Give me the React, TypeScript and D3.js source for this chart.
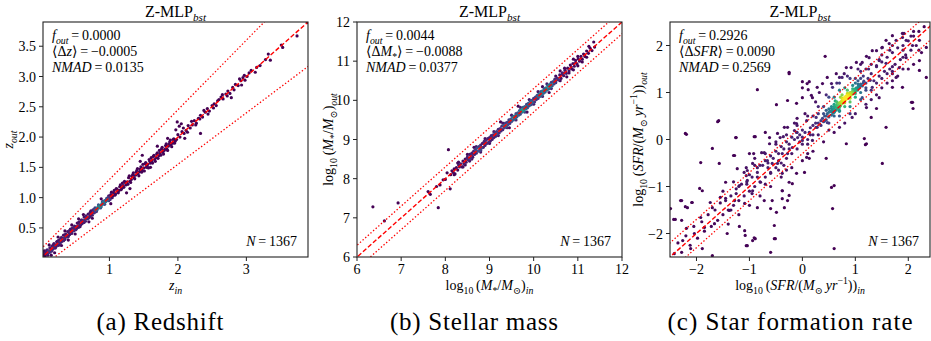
import React from 'react';
import * as d3 from 'd3';

const W = 931;
const H = 341;

// tick values
const zTicksX = [1, 2, 3];
const zTicksY = [0.5, 1.0, 1.5, 2.0, 2.5, 3.0, 3.5];
const massTicks = [6, 7, 8, 9, 10, 11, 12];
const sfrTicks = [-2, -1, 0, 1, 2];

// summary numbers printed in each panel
const zStats = ['0.0000', '\u22120.0005', '0.0135'];
const massStats = ['0.0044', '\u22120.0088', '0.0377'];
const sfrStats = ['0.2926', '0.0090', '0.2569'];
const nGal = 1367;

// redshift: [z_in, z_out]
const zPoints: [number, number][] = [
  [0.04,0.05],[0.05,0.12],[0.06,0.03],[0.07,0.09],[0.08,0.07],[0.09,0.14],[0.1,0.08],[0.11,0.12],[0.12,0.1],[0.13,0.17],
  [0.14,0.13],[0.15,0.12],[0.16,0.2],[0.17,0.15],[0.18,0.18],[0.19,0.24],[0.2,0.17],[0.21,0.22],[0.22,0.19],[0.23,0.27],
  [0.24,0.23],[0.25,0.21],[0.26,0.3],[0.27,0.26],[0.28,0.25],[0.29,0.33],[0.3,0.27],[0.31,0.31],[0.32,0.29],[0.33,0.38],
  [0.34,0.33],[0.35,0.31],[0.36,0.4],[0.37,0.35],[0.38,0.37],[0.39,0.44],[0.4,0.36],[0.41,0.42],[0.42,0.39],[0.43,0.48],
  [0.44,0.43],[0.45,0.41],[0.46,0.5],[0.47,0.46],[0.48,0.45],[0.49,0.53],[0.5,0.47],[0.51,0.52],[0.52,0.49],[0.53,0.58],
  [0.54,0.53],[0.55,0.51],[0.56,0.6],[0.57,0.56],[0.58,0.55],[0.59,0.63],[0.6,0.57],[0.61,0.62],[0.62,0.59],[0.63,0.68],
  [0.64,0.63],[0.65,0.61],[0.66,0.7],[0.67,0.66],[0.68,0.65],[0.69,0.73],[0.7,0.67],[0.71,0.72],[0.72,0.69],[0.73,0.78],
  [0.74,0.73],[0.75,0.71],[0.76,0.8],[0.77,0.76],[0.78,0.75],[0.79,0.83],[0.8,0.78],[0.81,0.81],[0.82,0.8],[0.83,0.84],
  [0.84,0.83],[0.85,0.84],[0.86,0.87],[0.87,0.86],[0.88,0.85],[0.89,0.9],[0.9,0.89],[0.91,0.92],[0.92,0.9],[0.93,0.95],
  [0.94,0.93],[0.95,0.94],[0.96,0.99],[0.97,0.96],[0.98,0.97],[0.99,1.03],[1.0,0.98],
  [0.8,0.8],[0.82,0.82],[0.84,0.85],[0.85,0.86],[0.87,0.87],[0.9,0.91],[0.92,0.93],[0.95,0.96],[0.98,1.0],[1.0,1.01],
  [0.12,0.22],[0.2,0.09],[0.35,0.45],[0.5,0.4],[0.62,0.72],[0.75,0.66],[0.88,0.98],[1.02,0.9],[0.45,0.55],[0.3,0.21],
  [0.05,0.09],[0.08,0.12],[0.1,0.05],[0.13,0.1],[0.16,0.12],[0.18,0.22],[0.21,0.17],[0.24,0.28],[0.27,0.22],[0.3,0.34],
  [0.33,0.29],[0.36,0.36],[0.39,0.35],[0.42,0.46],[0.45,0.44],[0.48,0.5],[0.51,0.47],[0.54,0.58],[0.57,0.52],[0.6,0.63],
  [0.63,0.59],[0.66,0.67],[0.69,0.66],[0.72,0.76],[0.75,0.75],[0.78,0.81],[0.81,0.77],[0.84,0.88],[0.87,0.83],[0.9,0.94],
  [0.93,0.89],[0.96,0.96],[0.99,0.95],[0.25,0.35],[0.55,0.65],[0.7,0.6],[0.4,0.3],[0.15,0.05],
  [1.02,1.05],[1.04,1.0],[1.06,1.08],[1.08,1.04],[1.1,1.15],[1.12,1.1],[1.14,1.12],[1.16,1.21],[1.18,1.15],[1.2,1.2],
  [1.22,1.27],[1.24,1.21],[1.25,1.08],[1.26,1.26],[1.28,1.33],[1.3,1.27],[1.32,1.3],[1.34,1.38],[1.36,1.33],[1.38,1.37],
  [1.4,1.45],[1.42,1.39],[1.44,1.43],[1.46,1.51],[1.48,1.7],[1.48,1.45],[1.5,1.49],[1.52,1.56],[1.54,1.5],[1.56,1.55],
  [1.58,1.63],[1.6,1.57],[1.62,1.61],[1.64,1.68],[1.66,1.63],[1.68,1.66],[1.7,1.85],[1.7,1.74],[1.72,1.69],[1.74,1.73],
  [1.76,1.8],[1.78,1.75],[1.8,1.78],[1.82,1.86],[1.84,1.8],[1.86,1.85],[1.88,1.92],[1.9,1.87],[1.92,1.9],[1.94,1.97],
  [1.96,1.93],[1.98,1.96],[2.0,2.04],
  [1.01,0.97],[1.03,1.09],[1.05,1.03],[1.07,1.12],[1.09,1.06],[1.11,1.14],[1.13,1.08],[1.15,1.18],[1.17,1.13],[1.19,1.24],
  [1.21,1.17],[1.23,1.25],[1.27,1.22],[1.29,1.36],[1.31,1.25],[1.33,1.35],[1.35,1.41],[1.37,1.31],[1.39,1.42],[1.41,1.48],
  [1.43,1.36],[1.45,1.47],[1.47,1.42],[1.49,1.55],[1.51,1.44],[1.53,1.58],[1.55,1.52],[1.57,1.49],[1.59,1.6],[1.61,1.66],
  [1.63,1.57],[1.65,1.7],[1.67,1.6],[1.69,1.72],[1.71,1.65],[1.73,1.78],[1.75,1.7],[1.77,1.83],[1.79,1.72],[1.81,1.8],
  [1.83,1.89],[1.85,1.78],[1.87,1.88],[1.89,1.95],[1.91,1.84],[1.93,1.96],[1.95,1.9],[1.45,1.6],[1.6,1.5],[1.3,1.15],[1.85,1.98],
  [1.97,2.12],[2.02,2.18],[2.05,2.22],[2.08,2.15],[1.99,2.25],[2.33,2.06],[2.1,1.98],
  [2.03,2.0],[2.06,2.09],[2.09,2.06],[2.12,2.11],[2.15,2.19],[2.18,2.15],[2.21,2.2],[2.24,2.27],[2.27,2.23],[2.3,2.31],
  [2.33,2.36],[2.36,2.33],[2.4,2.41],[2.43,2.47],[2.46,2.43],[2.5,2.52],[2.53,2.55],[2.56,2.52],[2.6,2.62],[2.63,2.66],
  [2.66,2.63],[2.7,2.71],[2.73,2.76],[2.76,2.72],[2.8,2.82],[2.84,2.87],[2.88,2.85],[2.92,2.93],[2.95,2.98],[2.98,2.94],
  [2.93,2.86],[2.78,2.65],
  [2.14,2.08],[2.2,2.26],[2.26,2.2],[2.32,2.3],[2.38,2.44],[2.44,2.38],[2.52,2.48],[2.58,2.6],[2.65,2.7],[2.72,2.68],
  [2.82,2.78],[2.9,2.96],[2.97,3.02],[3.07,3.1],[3.2,3.18],
  [3.01,3.0],[3.04,3.06],[3.13,3.07],[3.15,3.15],[3.28,3.28],[3.32,3.37],[3.35,3.27],[3.51,3.52],[3.53,3.48],[3.74,3.67],
  [3.89,3.89],
];

// stellar mass: [log M_in, log M_out]
const massPoints: [number, number][] = [
  [6.36,7.28],[6.62,6.92],[6.93,7.38],[7.61,7.67],[7.66,7.6],[7.8,7.8],[7.84,7.26],[8.07,8.74],[8.11,7.74],[8.04,8.15],
  [7.95,7.97],[7.88,7.84],[8.0,7.98],
  [8.12,8.1],[8.15,8.2],[8.18,8.16],[8.2,8.25],[8.22,8.12],[8.25,8.28],[8.28,8.22],[8.3,8.35],[8.32,8.3],[8.35,8.38],
  [8.38,8.3],[8.4,8.45],[8.42,8.38],[8.45,8.5],[8.47,8.42],[8.5,8.55],[8.52,8.48],[8.55,8.62],[8.57,8.52],[8.6,8.65],
  [8.62,8.55],[8.64,8.7],[8.66,8.62],[8.68,8.75],[8.7,8.65],[8.72,8.78],[8.74,8.7],[8.76,8.82],[8.78,8.72],[8.8,8.86],
  [8.82,8.78],[8.84,8.9],[8.86,8.8],[8.88,8.95],[8.9,8.85],[8.92,8.98],[8.94,8.9],[8.96,9.02],[8.98,8.93],[8.55,8.45],
  [8.65,8.8],[8.8,8.68],[8.28,8.4],[8.45,8.35],
  [9.0,9.05],[9.02,8.96],[9.04,9.1],[9.06,9.0],[9.08,9.12],[9.1,9.05],[9.12,9.18],[9.14,9.08],[9.16,9.2],[9.18,9.13],
  [9.2,9.26],[9.22,9.17],[9.24,9.28],[9.26,9.22],[9.28,9.34],[9.3,9.25],[9.32,9.36],[9.34,9.3],[9.36,9.42],[9.38,9.33],
  [9.4,9.44],[9.42,9.38],[9.44,9.5],[9.46,9.41],[9.48,9.52],[9.5,9.46],[9.52,9.58],[9.54,9.5],[9.56,9.6],[9.58,9.53],
  [9.6,9.66],[9.62,9.58],[9.64,9.68],[9.66,9.62],[9.68,9.74],[9.7,9.65],[9.72,9.76],[9.74,9.7],[9.76,9.82],[9.78,9.73],
  [9.8,9.84],[9.82,9.78],[9.84,9.9],[9.86,9.81],[9.88,9.92],[9.9,9.86],[9.92,9.98],[9.94,9.89],[9.96,10.0],[9.98,9.94],
  [9.5,9.5],[9.55,9.56],[9.6,9.61],[9.65,9.64],[9.7,9.71],[9.75,9.75],[9.8,9.8],[9.85,9.86],[9.9,9.9],[9.95,9.96],
  [9.25,9.45],[9.45,9.3],[9.65,9.85],[9.85,9.7],
  [10.0,10.05],[10.02,9.96],[10.04,10.08],[10.06,10.02],[10.08,10.13],[10.1,10.05],[10.12,10.16],[10.14,10.1],[10.16,10.22],
  [10.18,10.13],[10.2,10.24],[10.22,10.18],[10.24,10.3],[10.26,10.21],[10.28,10.32],[10.3,10.26],[10.32,10.38],[10.34,10.29],
  [10.36,10.4],[10.38,10.34],[10.4,10.46],[10.42,10.37],[10.44,10.48],[10.46,10.42],[10.48,10.54],[10.5,10.45],[10.53,10.57],
  [10.56,10.52],[10.59,10.65],[10.62,10.56],[10.65,10.7],[10.68,10.63],[10.71,10.77],[10.74,10.69],[10.77,10.82],[10.8,10.75],
  [10.83,10.9],[10.86,10.8],[10.89,10.94],[10.92,10.87],[10.95,11.02],[10.98,10.93],[11.01,11.06],[11.04,11.0],[11.07,11.12],
  [11.1,11.05],[11.13,11.18],[11.16,11.12],[11.2,11.26],[11.24,11.2],[11.28,11.33],[11.32,11.27],[11.36,11.49],[11.38,11.36],
  [10.05,10.06],[10.1,10.1],[10.15,10.15],[10.2,10.21],[10.25,10.25],[10.3,10.3],[10.35,10.36],[10.4,10.4],[10.45,10.46],
  [10.5,10.5],[10.2,10.35],[10.35,10.2],[10.6,10.75],[10.75,10.6],[10.9,11.05],[11.0,10.88],
  [8.2,8.1],[8.3,8.42],[8.4,8.3],[8.5,8.62],[8.6,8.5],[8.7,8.82],[8.8,8.72],[8.9,9.02],[9.0,8.9],[9.1,9.2],
  [9.2,9.1],[9.3,9.42],[9.4,9.3],[9.5,9.62],[9.6,9.5],[9.7,9.82],[9.8,9.7],[9.9,10.02],[10.0,9.9],[10.1,10.22],
  [10.2,10.1],[10.3,10.42],[10.4,10.3],[10.5,10.62],[10.6,10.5],[10.7,10.82],[10.8,10.7],[10.9,10.78],[11.0,11.12],[11.1,10.98],
  [11.2,11.1],[11.25,11.38],[9.05,9.06],[9.15,9.15],[9.25,9.26],[9.35,9.35],[9.45,9.45],[10.55,10.55],[10.65,10.66],[10.7,10.7],
  [10.85,10.85],[10.95,10.96],[8.5,8.5],[8.6,8.6],[8.7,8.7],[8.8,8.8],[8.9,8.9],
];

// star formation rate: [log SFR_in, log SFR_out], in four groups
const sfrScatter: [number, number][] = [
  [-0.25,1.43],[-0.85,1.06],[-1.58,0.4],[-2.19,0.11],[0.13,1.23],[0.0,1.1],[0.11,1.06],[0.28,1.11],[0.38,1.19],[-0.49,0.74],
  [-0.28,0.83],[-0.11,0.77],[0.0,0.89],[0.19,0.89],[0.57,1.11],[0.75,1.32],[0.64,1.4],[0.92,1.53],[1.13,1.64],[1.26,1.74],
  [1.32,1.89],[1.51,1.96],[1.64,2.04],[1.77,2.11],[1.92,2.26],[1.89,2.17],[1.4,1.57],[1.7,1.4],[1.89,1.11],[2.06,0.79],
  [2.09,0.66],[2.21,1.68],[1.13,0.89],[1.21,0.68],[0.7,0.62],[0.47,0.36],[0.28,0.26],[0.13,0.15],[-0.11,0.15],[-0.36,0.06],
  [-0.62,0.04],[-1.25,0.04],[0.43,1.77],[-0.25,1.4],[0.0,1.23],[0.09,1.19],[0.17,0.94],[0.32,1.0],[0.47,1.32],[0.55,1.19],
  [0.7,1.32],[0.79,1.4],[0.83,1.53],[1.02,1.64],[1.21,1.77],[1.4,1.89],[1.58,2.11],[1.7,2.21],[1.89,2.26],[1.96,2.11],
  [2.08,2.0],[2.21,2.11],[2.25,1.85],[2.34,1.96],[2.08,0.79],[1.58,0.26],[1.17,0.02],[1.21,-0.09],[1.51,-0.51],[-0.89,0.06],
  [-0.92,-0.3],[-1.06,-0.6],[-0.57,-0.51],[-0.38,-0.3],[-0.19,-0.17],[-0.09,0.04],[0.0,-0.02],[0.26,0.26],[0.42,0.4],[0.26,0.47],
  [0.08,0.4],[-0.11,0.34],[-0.28,0.26],[-0.47,0.13],[-0.62,-0.09],[-0.77,-0.28],[-0.94,-0.51],[0.7,0.26],[0.94,0.47],[1.3,0.47],
  [1.4,0.66],[1.45,0.89],[1.32,1.11],[1.7,1.11],[1.77,1.32],[1.83,1.53],[1.58,1.62],[1.45,1.68],[1.96,1.74],[2.21,1.47],
  [2.34,1.32],[-2.21,0.13],[-1.6,0.38],[-1.26,0.04],[-0.91,0.06],[-1.7,-0.19],[-1.92,-0.49],[-1.57,-0.51],[-1.28,-0.34],[-1.0,-0.3],
  [-0.72,-0.28],[-0.7,0.15],[-0.42,0.04],[-0.34,0.26],[-0.15,0.19],[-0.28,-0.3],[-0.47,-0.51],[-0.66,-0.45],[-0.85,-0.6],[-1.04,-0.66],
  [-1.23,-0.62],[-1.45,-0.91],[-1.19,-0.98],[-1.04,-0.87],[-0.94,-1.09],[-0.79,-0.91],[-0.6,-0.72],[-0.38,-0.72],[-0.19,-0.94],[-0.38,-1.09],
  [-0.28,-1.3],[-0.72,-1.3],[-0.6,-1.47],[-0.85,-1.45],[-1.09,-1.36],[-1.28,-1.3],[-1.38,-1.51],[-1.55,-1.23],[-1.74,-1.34],[-1.89,-1.09],
  [-2.08,-1.34],[-2.3,-1.3],[-2.21,-1.43],[-2.49,-1.47],[-2.4,-1.7],[-1.92,-1.66],[-1.85,-1.87],[-1.66,-1.79],[-1.42,-2.0],[-1.09,-1.94],
  [-1.08,-2.04],[-0.91,-2.09],[-0.89,-2.11],[-0.51,-2.11],[-0.53,-1.83],[-1.04,-2.26],[-2.04,-2.0],[-2.26,-2.15],[-1.89,-2.32],[-2.42,-2.43],
  [-2.11,-2.32],[-1.3,-0.34],[-1.06,-0.77],[-1.94,-1.04],[-2.28,-1.3],[-2.09,-1.34],[-2.17,-1.45],[-2.43,-1.7],[-2.28,-1.72],[-2.19,-1.89],
  [-1.7,-2.47],[-1.19,-1.85],[-1.06,-2.26],[-0.94,-2.15],[-0.6,-2.4],[-0.53,-2.11],[-0.38,-1.09],[-0.25,-1.19],[-0.38,-1.26],[-0.57,-1.3],
  [-0.34,-1.45],[-0.49,-1.55],[-0.25,-0.91],[-0.11,-0.72],[0.04,-0.7],[0.13,-0.4],[0.45,-0.4],[0.08,-0.38],[0.55,-1.02],[0.6,-0.98],
  [0.57,-1.47],[0.6,-2.32],[0.83,-0.09],[1.19,-0.11],[0.19,-0.02],
];
const sfrBand: [number, number][] = [
  [-2.35,-2.2],[-2.28,-2.4],[-2.2,-2.05],[-2.12,-2.25],[-2.05,-1.85],[-1.98,-2.1],[-1.9,-1.75],[-1.85,-1.95],[-1.78,-1.6],[-1.72,-1.85],
  [-1.65,-1.5],[-1.6,-1.72],[-1.55,-1.35],[-1.5,-1.6],[-1.45,-1.25],[-1.4,-1.5],[-1.35,-1.2],[-1.3,-1.4],[-1.25,-1.05],[-1.2,-1.3],
  [-1.15,-0.95],[-1.1,-1.2],[-1.05,-0.9],[-1.0,-1.1],[-0.95,-0.8],[-0.9,-1.0],[-0.85,-0.7],[-0.8,-0.9],[-0.75,-0.55],[-0.7,-0.8],
  [-0.65,-0.5],[-0.6,-0.7],[-0.55,-0.4],[-0.5,-0.6],[-0.45,-0.3],[-0.4,-0.5],[-0.35,-0.2],[-0.3,-0.4],[-0.25,-0.1],[-0.2,-0.3],
  [-0.15,0.0],[-0.1,-0.2],[-0.05,0.1],[0.0,-0.1],[0.05,0.15],[0.1,0.0],[0.15,0.25],[0.2,0.1],[0.25,0.35],[-0.6,-0.35],
  [-0.4,-0.15],[-0.2,0.05],[0.0,0.2],[-1.0,-0.75],[-0.8,-0.55],[-1.2,-1.0],[-0.3,-0.05],[-0.1,0.15],[-0.5,-0.25],[-0.7,-0.45],
  [-1.35,-1.5],[-1.7,-1.45],[-0.95,-1.15],[-0.45,-0.65],[0.1,-0.1],
  [1.3,1.4],[1.35,1.25],[1.4,1.55],[1.45,1.35],[1.5,1.65],[1.55,1.45],[1.6,1.75],[1.65,1.5],[1.7,1.85],[1.75,1.6],
  [1.8,1.95],[1.85,1.7],[1.9,2.0],[1.95,1.8],[2.0,2.1],[2.05,1.9],[2.1,2.2],[2.15,2.0],[2.2,2.3],[1.25,1.5],
  [1.45,1.7],[1.65,1.9],[1.5,1.3],[1.7,1.55],[1.9,1.75],[1.4,1.2],[1.6,1.4],[2.3,2.4],[1.2,1.05],
];
const sfrCloud: [number, number][] = [
  [-1.5,-1.1],[-1.4,-1.8],[-1.3,-0.9],[-1.2,-1.6],[-1.1,-0.7],[-1.0,-1.4],[-0.9,-0.55],[-0.8,-1.2],[-0.7,-0.3],[-0.6,-1.0],
  [-0.5,-0.1],[-0.4,-0.8],[-0.3,0.1],[-0.2,-0.6],[-0.1,0.3],[0.0,-0.45],[0.1,0.5],[0.2,-0.25],[0.3,0.7],[0.4,-0.05],
  [0.5,0.9],[0.6,0.15],[0.7,1.05],[0.8,0.35],[0.9,1.3],[1.0,0.55],[1.1,1.45],[1.2,0.75],[1.3,1.6],[1.4,0.95],
  [1.5,1.8],[1.6,1.2],[1.7,2.0],[1.8,1.35],[1.9,2.25],[2.0,1.5],[2.1,1.6],[2.2,1.9],
  [-1.45,-1.3],[-1.25,-1.15],[-1.05,-0.95],[-0.85,-0.8],[-0.65,-0.6],[-0.45,-0.45],[-0.25,-0.2],[-0.05,-0.05],[0.15,0.1],[0.35,0.4],
  [0.55,0.6],[-0.9,-0.4],[-0.7,-0.95],[-0.5,-0.05],[-0.3,-0.65],[-0.1,0.45],[0.1,-0.3],[0.3,0.55],[0.5,0.2],[0.7,1.2],
  [0.9,0.55],[1.1,1.6],[1.3,0.85],[1.5,1.95],[1.7,1.25],[1.9,1.5],[2.1,2.3],
  [0.2,0.5],[0.4,0.7],[0.6,0.9],[0.8,1.1],[1.0,1.3],[1.2,1.5],[0.3,0.1],[0.5,0.35],[0.7,0.5],[0.9,0.7],
  [1.1,0.85],[1.3,1.05],[1.5,1.1],[1.7,1.45],[1.9,1.9],[2.05,2.2],
  [-0.15,0.35],[0.05,0.55],[0.25,0.8],[0.45,0.95],[0.65,1.2],[0.85,1.35],[1.05,1.5],[-0.35,-0.55],[0.0,0.05],[0.2,0.3],
  [0.4,0.55],[0.6,0.75],
];
const sfrCore: [number, number][] = [
  [0.3,0.35],[0.35,0.3],[0.38,0.45],[0.4,0.38],[0.42,0.5],[0.45,0.42],[0.47,0.55],[0.5,0.48],[0.52,0.6],[0.55,0.52],
  [0.57,0.62],[0.58,0.56],[0.6,0.66],[0.61,0.6],[0.63,0.7],[0.64,0.63],[0.66,0.72],[0.67,0.66],[0.68,0.76],[0.7,0.7],
  [0.71,0.78],[0.72,0.72],[0.73,0.8],[0.74,0.76],[0.75,0.83],[0.76,0.78],[0.77,0.85],[0.78,0.8],[0.79,0.87],[0.8,0.83],
  [0.81,0.89],[0.82,0.85],[0.83,0.9],[0.84,0.87],[0.85,0.93],[0.86,0.89],[0.87,0.95],[0.88,0.91],[0.89,0.97],[0.9,0.93],
  [0.91,0.98],[0.92,0.95],[0.93,1.0],[0.94,0.97],[0.95,1.03],[0.96,0.99],[0.98,1.05],[1.0,1.02],[1.02,1.1],[1.04,1.05],
  [1.06,1.14],[1.08,1.1],[1.1,1.18],[1.13,1.14],[1.16,1.24],[1.2,1.2],[1.24,1.3],[1.28,1.26],
  [0.78,0.86],[0.8,0.88],[0.82,0.9],[0.84,0.92],[0.86,0.94],[0.88,0.96],[0.8,0.86],[0.83,0.88],[0.85,0.9],[0.87,0.92],
  [0.9,0.97],[0.76,0.82],[0.74,0.8],[0.92,1.0],[0.94,1.01],[0.79,0.84],[0.81,0.87],[0.83,0.93],[0.86,0.91],[0.89,0.94],
  [0.5,0.65],[0.55,0.7],[0.6,0.5],[0.65,0.8],[0.7,0.6],[0.75,0.95],[0.8,0.7],[0.85,1.05],[0.9,0.8],[0.95,1.15],
  [1.0,0.9],[1.05,1.25],[1.1,1.0],[1.15,1.35],[1.2,1.1],[0.45,0.62],[0.62,0.82],[0.72,0.9],[1.0,1.2],[1.1,1.3],
  [0.45,0.5],[0.5,0.58],[0.55,0.6],[0.6,0.7],[0.65,0.68],[0.7,0.78],[0.75,0.8],[0.8,0.9],[0.85,0.87],[0.9,1.0],
  [0.95,0.98],[1.0,1.08],[1.05,1.1],[1.1,1.15],[1.15,1.2],[0.55,0.66],[0.65,0.74],[0.75,0.88],[0.85,0.98],[0.95,1.08],
  [1.05,1.18],[0.6,0.58],[0.7,0.68],[0.8,0.78],[0.9,0.88],[1.0,0.98],
];
const sfrPoints = [...sfrScatter, ...sfrBand, ...sfrCloud, ...sfrCore];

const FONT = '"Liberation Serif", "Times New Roman", "DejaVu Serif", serif';

type Seg = { t: string; i?: boolean; s?: 'sub' | 'sup' };

const Rich = ({ segs, size, ...rest }: { segs: Seg[]; size: number; [k: string]: any }) => {
  let cur = 0;
  return (
    <text fontSize={size} style={{ fontFamily: FONT }} fill="#000" {...rest}>
      {segs.map((g, k) => {
        const target = g.s === 'sub' ? size * 0.25 : g.s === 'sup' ? -size * 0.4 : 0;
        const dy = target - cur;
        cur = target;
        return (
          <tspan key={k} dy={dy} fontStyle={g.i ? 'italic' : 'normal'} fontSize={g.s ? size * 0.7 : size}>
            {g.t}
          </tspan>
        );
      })}
    </text>
  );
};

const title: Seg[] = [{ t: 'Z-MLP' }, { t: 'bst', i: true, s: 'sub' }];
const statSegs = (name: Seg[], vals: string[]): Seg[][] => [
  [{ t: 'f', i: true }, { t: 'out', i: true, s: 'sub' }, { t: '\u2009=\u2009' + vals[0] }],
  [{ t: '\u27E8\u0394' }, ...name, { t: '\u27E9\u2009=\u2009' + vals[1] }],
  [{ t: 'NMAD', i: true }, { t: '\u2009=\u2009' + vals[2] }],
];
const logLabel = (inner: Seg[], sub: string): Seg[] => [
  { t: 'log' }, { t: '10', s: 'sub' }, { t: '\u2009(' }, ...inner, { t: ')' }, { t: sub, i: true, s: 'sub' },
];
const massInner: Seg[] = [{ t: 'M', i: true }, { t: '*', s: 'sub' }, { t: '/' }, { t: 'M', i: true }, { t: '\u2299', s: 'sub' }];
const sfrInner: Seg[] = [
  { t: 'SFR', i: true }, { t: '/(' }, { t: 'M', i: true }, { t: '\u2299', s: 'sub' }, { t: '\u2009' },
  { t: 'yr', i: true }, { t: '\u22121', s: 'sup' }, { t: ')' },
];

type PanelProps = {
  id: string;
  x0: number;
  width: number;
  xDomain: [number, number];
  yDomain: [number, number];
  xTicks: number[];
  yTicks: number[];
  fmtX: (v: number) => string;
  fmtY: (v: number) => string;
  points: [number, number][];
  band: (v: number, s: number) => number;
  stats: Seg[][];
  xLabel: Seg[];
  yLabel: Seg[];
  yLabelX: number;
  gamma: number;
  cap: number;
  bw: number;
};

const TOP = 22;
const BOTTOM = 257;

function Panel(p: PanelProps) {
  const x1 = p.x0 + p.width;
  const x = d3.scaleLinear().domain(p.xDomain).range([p.x0, x1]);
  const y = d3.scaleLinear().domain(p.yDomain).range([BOTTOM, TOP]);

  // colour each point by a gaussian density estimate, like the usual kde scatter
  const px = p.points.map(([a, b]) => [x(a), y(b)] as [number, number]);
  const dens = px.map(([a, b]) => {
    let s = 0;
    for (const [c, d] of px) {
      const dx = a - c, dy = b - d;
      s += Math.exp(-(dx * dx + dy * dy) / (2 * p.bw * p.bw));
    }
    return s;
  });
  const [lo, hi] = d3.extent(dens) as [number, number];
  const marks = px
    .map((q, k) => ({ q, t: Math.pow((dens[k] - lo) / (hi - lo), p.gamma) * p.cap }))
    .sort((a, b) => a.t - b.t);

  const xs = [p.xDomain[0] - 1, p.xDomain[1] + 1];
  const line = (s: number) =>
    d3.line<number>().x((v) => x(v)).y((v) => y(p.band(v, s)))(xs) as string;

  const cx = (p.x0 + x1) / 2;
  const cy = (TOP + BOTTOM) / 2;
  const axis = '#222';

  return (
    <g>
      <defs>
        <clipPath id={`clip-${p.id}`}>
          <rect x={p.x0} y={TOP} width={p.width} height={BOTTOM - TOP} />
        </clipPath>
      </defs>
      <g clipPath={`url(#clip-${p.id})`}>
        {marks.map((m, k) => (
          <circle key={k} cx={m.q[0]} cy={m.q[1]} r={1.6} fill={d3.interpolateViridis(m.t)} />
        ))}
        <path d={line(0)} stroke="red" strokeWidth={1.4} strokeDasharray="4.5,2.2" fill="none" />
        <path d={line(1)} stroke="red" strokeWidth={1.3} strokeDasharray="1.4,2.1" fill="none" />
        <path d={line(-1)} stroke="red" strokeWidth={1.3} strokeDasharray="1.4,2.1" fill="none" />
      </g>
      <rect x={p.x0} y={TOP} width={p.width} height={BOTTOM - TOP} fill="none" stroke={axis} strokeWidth={1.1} />
      {p.xTicks.map((t) => (
        <g key={`x${t}`}>
          <line x1={x(t)} x2={x(t)} y1={BOTTOM} y2={BOTTOM + 4} stroke={axis} />
          <text x={x(t)} y={BOTTOM + 17} textAnchor="middle" fontSize={14} style={{ fontFamily: FONT }}>
            {p.fmtX(t)}
          </text>
        </g>
      ))}
      {p.yTicks.map((t) => (
        <g key={`y${t}`}>
          <line x1={p.x0 - 4} x2={p.x0} y1={y(t)} y2={y(t)} stroke={axis} />
          <text x={p.x0 - 7} y={y(t) + 5} textAnchor="end" fontSize={14} style={{ fontFamily: FONT }}>
            {p.fmtY(t)}
          </text>
        </g>
      ))}
      {p.stats.map((s, k) => (
        <Rich key={k} segs={s} size={14} x={p.x0 + 9} y={40 + k * 16} />
      ))}
      <Rich segs={[{ t: 'N', i: true }, { t: '\u2009=\u2009' + nGal }]} size={14} x={x1 - 11} y={246} textAnchor="end" />
      <Rich segs={title} size={16} x={cx} y={17} textAnchor="middle" />
      <Rich segs={p.xLabel} size={14} x={cx} y={290} textAnchor="middle" />
      <Rich segs={p.yLabel} size={14} x={0} y={0} textAnchor="middle"
        transform={`translate(${p.yLabelX},${cy}) rotate(-90)`} />
    </g>
  );
}

const capStyle = { fontFamily: FONT };

export default function App() {
  return (
    <svg width={W} height={H} style={{ position: 'absolute', left: 0, top: 0, background: '#fff', fontFamily: FONT }}>
      <rect width={W} height={H} fill="#fff" />
      <Panel
        id="z" x0={43} width={265} xDomain={[0.03, 3.9]} yDomain={[0.02, 3.9]}
        xTicks={zTicksX} yTicks={zTicksY}
        fmtX={(v) => String(v)} fmtY={(v) => d3.format('.1f')(v)}
        points={zPoints} band={(v, s) => v + s * 0.15 * (1 + v)}
        stats={statSegs([{ t: 'z', i: true }], zStats)}
        xLabel={[{ t: 'z', i: true }, { t: 'in', i: true, s: 'sub' }]}
        yLabel={[{ t: 'z', i: true }, { t: 'out', i: true, s: 'sub' }]}
        yLabelX={13} gamma={4} cap={0.45} bw={3}
      />
      <Panel
        id="m" x0={357} width={265} xDomain={[6, 12]} yDomain={[6, 12]}
        xTicks={massTicks} yTicks={massTicks} fmtX={(v) => String(v)} fmtY={(v) => String(v)}
        points={massPoints} band={(v, s) => v + s * 0.3}
        stats={statSegs([{ t: 'M', i: true }, { t: '*', s: 'sub' }], massStats)}
        xLabel={logLabel(massInner, 'in')} yLabel={logLabel(massInner, 'out')}
        yLabelX={333} gamma={4} cap={0.55} bw={3}
      />
      <Panel
        id="s" x0={670} width={260} xDomain={[-2.5, 2.41]} yDomain={[-2.5, 2.5]}
        xTicks={sfrTicks} yTicks={sfrTicks} fmtX={(v) => d3.format('d')(v)} fmtY={(v) => d3.format('d')(v)}
        points={sfrPoints} band={(v, s) => v + s * 0.3}
        stats={statSegs([{ t: 'SFR', i: true }], sfrStats)}
        xLabel={logLabel(sfrInner, 'in')} yLabel={logLabel(sfrInner, 'out')}
        yLabelX={643} gamma={1.7} cap={1} bw={9}
      />
      <text x={160} y={330} textAnchor="middle" fontSize={25} style={capStyle} textLength={127} lengthAdjust="spacing">(a) Redshift</text>
      <text x={474} y={330} textAnchor="middle" fontSize={25} style={capStyle} textLength={168} lengthAdjust="spacing">(b) Stellar mass</text>
      <text x={790} y={330} textAnchor="middle" fontSize={25} style={capStyle} textLength={245} lengthAdjust="spacing">(c) Star formation rate</text>
    </svg>
  );
}
